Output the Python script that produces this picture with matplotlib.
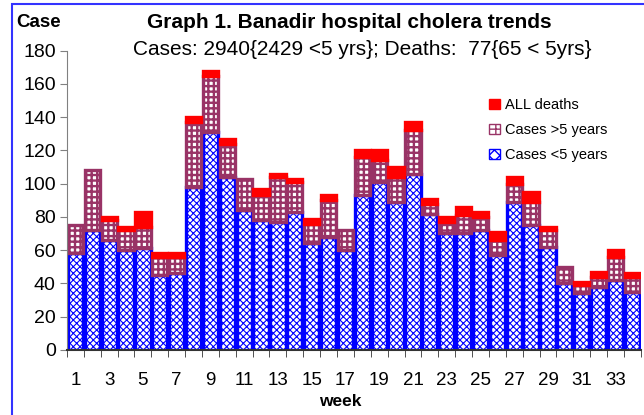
import matplotlib
matplotlib.use("Agg")
import matplotlib.pyplot as plt
import numpy as np
from matplotlib.patches import Patch, Rectangle

# weekly values
weeks = np.arange(1, 35)
under5 = [58, 72, 66, 60, 61, 45, 46, 98, 131, 104, 84, 78, 77, 83, 64, 68, 60,
          93, 101, 89, 106, 82, 70, 70, 72, 57, 89, 75, 62, 40, 34, 38, 42, 35]
over5 = [17, 36, 12, 12, 13, 11, 10, 39, 34, 20, 19, 15, 27, 18, 12, 22, 12,
         23, 13, 15, 26, 6, 7, 11, 8, 9, 11, 14, 10, 10, 5, 6, 14, 9]
deaths = [0, 0, 2, 2, 9, 2, 2, 3, 3, 3, 0, 4, 2, 2, 3, 3, 0,
          4, 6, 6, 5, 3, 3, 5, 3, 5, 4, 6, 2, 0, 2, 3, 4, 2]
xlabels = [str(w) if w % 2 else "" for w in weeks]

blue = "#0000ff"
plum = "#993366"
red = "#ff0000"

plt.rcParams['font.family'] = ['Liberation Sans', 'DejaVu Sans']

fig = plt.figure(figsize=(6.44, 4.15), dpi=100)
ax = fig.add_axes([0.104, 0.157, 0.891, 0.721])

u = np.array(under5)
o = np.array(over5)
d = np.array(deaths)

with plt.rc_context({'hatch.linewidth': 0.8}):
    ax.bar(weeks, u, width=0.9, color="white", edgecolor=blue, hatch="xxxxx", linewidth=2.4)
with plt.rc_context({'hatch.linewidth': 1.7}):
    ax.bar(weeks, o, bottom=u, width=0.9, color="white", edgecolor=plum, hatch="+++", linewidth=2.4)
ax.bar(weeks, d, bottom=u + o, width=0.9, color=red, edgecolor=red,
       linewidth=np.where(d > 0, 2.4, 0))

ax.set_xlim(0.5, 34.5)
ax.set_ylim(0, 180)
ax.set_yticks(range(0, 181, 20))
ax.set_xticks(weeks)
ax.set_xticklabels(xlabels)
ax.set_xticks(np.arange(0.5, 35, 1), minor=True)
ax.tick_params(axis="x", which="major", length=0, pad=16, labelsize=13.5)
ax.tick_params(axis="x", which="minor", length=5, color="#333333", direction="out")
ax.tick_params(axis="y", length=5, color="#808080", labelsize=14, pad=3)
for s in ["top", "right"]:
    ax.spines[s].set_visible(False)
ax.spines["left"].set_color("#808080")
ax.spines["bottom"].set_color("#333333")
ax.spines["bottom"].set_linewidth(1.5)

with plt.rc_context({'hatch.linewidth': 1.0}):
    handles = [Patch(facecolor=red, edgecolor=red),
               Patch(facecolor="white", edgecolor=plum, hatch="++"),
               Patch(facecolor="white", edgecolor=blue, hatch="xxx")]
ax.legend(handles, ["ALL deaths", "Cases >5 years", "Cases <5 years"],
          loc="upper left", bbox_to_anchor=(0.712, 0.885), frameon=False,
          fontsize=10.5, handlelength=0.75, handleheight=0.75, handletextpad=0.4,
          labelspacing=0.75)

fig.text(0.026, 0.946, "Case", fontsize=13.5, fontweight="bold", va="center")
fig.text(0.542, 0.946, "Graph 1. Banadir hospital cholera trends", fontsize=15,
         fontweight="bold", ha="center", va="center")
fig.text(0.563, 0.88, "Cases: 2940{2429 <5 yrs}; Deaths:  77{65 < 5yrs}",
         fontsize=15, ha="center", va="center")
fig.text(0.528, 0.032, "week", fontsize=12.5, fontweight="bold", ha="center", va="center")

fig.patches.append(Rectangle((12 / 644, -0.05), 1.2, 1 - 4 / 415 + 0.05,
                             transform=fig.transFigure, fill=False,
                             edgecolor="#3333ff", linewidth=1.5))

fig.savefig("out.png", dpi=100)
